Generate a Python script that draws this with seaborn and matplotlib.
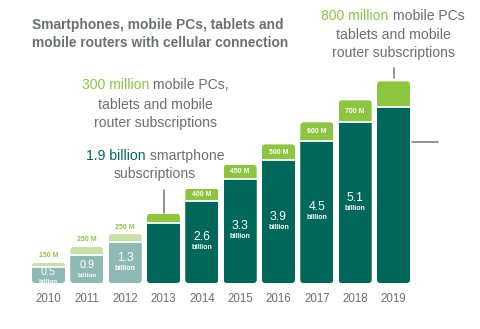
import numpy as np
import pandas as pd
import seaborn as sns
import matplotlib.pyplot as plt
from matplotlib.patches import FancyBboxPatch

years = ['2010', '2011', '2012', '2013', '2014', '2015', '2016', '2017', '2018', '2019']
smartphones = [0.5, 0.9, 1.3, 1.9, 2.6, 3.3, 3.9, 4.5, 5.1, 5.6]          # billion
other_devices = [0.15, 0.25, 0.25, 0.3, 0.4, 0.45, 0.5, 0.6, 0.7, 0.8]    # billion
smart_labels = ['0.5', '0.9', '1.3', '', '2.6', '3.3', '3.9', '4.5', '5.1', '']
other_labels = ['150 M', '250 M', '250 M', '', '400 M', '450 M', '500 M', '600 M', '700 M', '']
historic = [True, True, True, False, False, False, False, False, False, False]

DARK = '#00675b'
GREEN = '#8cc63f'
LIGHT_DARK = '#8fb9b5'
LIGHT_GREEN = '#c7e2a6'
GRAY = '#6d6e71'
FONT = 'Liberation Sans'

sns.set_theme(style='white')
plt.rcParams['font.family'] = [FONT, 'DejaVu Sans']

df = pd.DataFrame({'year': years, 'smart': smartphones, 'other': other_devices})
df['total'] = df['smart'] + df['other']

W, H = 480, 329
fig = plt.figure(figsize=(W / 100, H / 100), dpi=100)
base_px = 46
px_per_unit_y = 31.5
ax = fig.add_axes([0, base_px / H, 1, (H - base_px) / H])

top_cols = [LIGHT_GREEN if h else GREEN for h in historic]
bot_cols = [LIGHT_DARK if h else DARK for h in historic]

sns.barplot(data=df, x='year', y='total', hue='year', palette=top_cols, legend=False,
            width=0.86, saturation=1, ax=ax, linewidth=0)
n_top = len(ax.patches)
sns.barplot(data=df, x='year', y='smart', hue='year', palette=bot_cols, legend=False,
            width=0.86, saturation=1, ax=ax, linewidth=0)
top_patches = ax.patches[:n_top]
bot_patches = ax.patches[n_top:]

# axis scaling to match the reference layout
x0_px, x9_px = 48.5, 393.5
upx = 9 / (x9_px - x0_px)
ax.set_xlim(-x0_px * upx, 9 + (W - x9_px) * upx)
ax.set_ylim(0, (H - base_px) / px_per_unit_y)
sns.despine(ax=ax, left=True, bottom=True)
ax.set_yticks([])
ax.set_ylabel('')
ax.set_xlabel('')
ax.tick_params(axis='x', length=0, pad=7, labelsize=8.3, labelcolor=GRAY)

# rounded corners via clip paths
aspect = (1 / px_per_unit_y) / upx
for tp, bp in zip(top_patches, bot_patches):
    x, w, h = tp.get_x(), tp.get_width(), tp.get_height()
    clip = FancyBboxPatch((x, 0), w, h, boxstyle='round,pad=0,rounding_size=0.09',
                          mutation_aspect=aspect, transform=ax.transData)
    tp.set_clip_path(clip)
    bp.set_clip_path(clip)
    ax.hlines(bp.get_height(), x, x + w, color='white', lw=1.3, zorder=3)

# labels inside / above bars
for i, (s, o) in enumerate(zip(smartphones, other_devices)):
    if smart_labels[i]:
        if s < 1:
            up, dn, vs, bs = 2.6, -4.7, 7.8, 4.6
        else:
            up, dn, vs, bs = 3.5, -4.2, 8.8, 5
        ax.annotate(smart_labels[i], (i, s / 2), xytext=(0, up), textcoords='offset points',
                    ha='center', va='center', color='white', fontsize=vs, zorder=4)
        ax.annotate('billion', (i, s / 2), xytext=(0, dn), textcoords='offset points',
                    ha='center', va='center', color='white', fontsize=bs, fontweight='bold', zorder=4)
    if other_labels[i]:
        if historic[i]:
            ax.annotate(other_labels[i], (i, s + o), xytext=(0, 5), textcoords='offset points',
                        ha='center', va='center', color=GREEN, fontsize=5, fontweight='bold')
        else:
            ax.annotate(other_labels[i], (i, s + o / 2), xytext=(0, 0), textcoords='offset points',
                        ha='center', va='center', color='white', fontsize=5, fontweight='bold', zorder=4)

# callout lines
ax.plot([9, 9], [df['total'][9] + 0.1, df['total'][9] + 0.43], color='#777777', lw=1.1)
ax.plot([3, 3], [df['total'][3] + 0.02, df['total'][3] + 0.75], color='#777777', lw=1.1)
ax.plot([9.48, 10.16], [smartphones[9] - 1.12, smartphones[9] - 1.12], color='#777777', lw=1.1, clip_on=False)

# text helpers
fig.canvas.draw()
renderer = fig.canvas.get_renderer()


def line(xc_px, yc_px, parts, size=10.1, weight='normal'):
    texts = [fig.text(0, 1 - yc_px / H, s, color=c, fontsize=size, fontweight=weight,
                      ha='left', va='center') for s, c in parts]
    widths = [t.get_window_extent(renderer).width for t in texts]
    x = xc_px - sum(widths) / 2
    for t, w in zip(texts, widths):
        t.set_x(x / W)
        x += w


fig.text(32 / W, 1 - 25 / H, 'Smartphones, mobile PCs, tablets and', color=GRAY,
         fontsize=9.9, fontweight='bold', ha='left', va='center')
fig.text(32 / W, 1 - 43 / H, 'mobile routers with cellular connection', color=GRAY,
         fontsize=9.9, fontweight='bold', ha='left', va='center')

line(393, 16, [('800 million', GREEN), (' mobile PCs', GRAY)])
line(393, 35, [('tablets and mobile', GRAY)])
line(393, 53, [('router subscriptions', GRAY)])

line(155, 85, [('300 million', GREEN), (' mobile PCs,', GRAY)])
line(155, 105, [('tablets and mobile', GRAY)])
line(155, 123, [('router subscriptions', GRAY)])
line(155, 156, [('1.9 billion', DARK), (' smartphone', GRAY)])
line(155, 174, [('subscriptions', GRAY)])

fig.savefig('out.png', dpi=100)
